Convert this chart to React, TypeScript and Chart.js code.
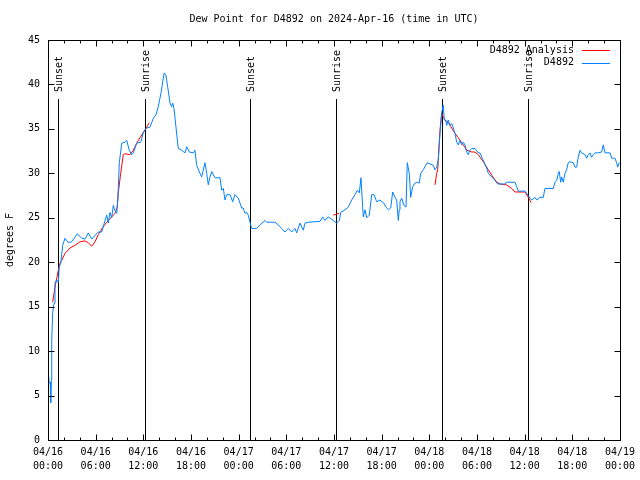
import React, { useEffect, useRef } from "react";
import { Chart, registerables } from "chart.js";

Chart.register(...registerables);

const TITLE = "Dew Point for D4892 on 2024-Apr-16 (time in UTC)";
const Y_AXIS_LABEL = "degrees F";

// x axis: hours since 04/16 00:00 UTC
const X_MIN = 0;
const X_MAX = 72;
const X_TICK_HOURS = [0, 6, 12, 18, 24, 30, 36, 42, 48, 54, 60, 66, 72];
const X_TICK_DATES = ["04/16", "04/16", "04/16", "04/16", "04/17", "04/17", "04/17", "04/17", "04/18", "04/18", "04/18", "04/18", "04/19"];
const X_TICK_TIMES = ["00:00", "06:00", "12:00", "18:00", "00:00", "06:00", "12:00", "18:00", "00:00", "06:00", "12:00", "18:00", "00:00"];
const X_MINOR_STEP = 2;

const Y_MIN = 0;
const Y_MAX = 45;
const Y_TICKS = [0, 5, 10, 15, 20, 25, 30, 35, 40, 45];

const SUN_EVENT_HOURS = [1.3, 12.25, 25.43, 36.29, 49.6, 60.46];
const SUN_EVENT_LABELS = ["Sunset", "Sunrise", "Sunset", "Sunrise", "Sunset", "Sunrise"];

const ANALYSIS_LABEL = "D4892 Analysis";
const OBS_LABEL = "D4892";

// observed dew point (blue)
const OBS_HOURS = [
  0.04, 0.16, 0.28, 0.34, 0.42, 0.47, 0.59, 0.76, 0.88, 1.1, 1.3, 1.42, 1.6, 1.85, 2.14, 2.56, 2.98,
  3.69, 4.24, 4.66, 5.07, 5.5, 6.33, 6.76, 7.18, 7.39, 7.59, 7.8, 8.02, 8.22, 8.43, 8.65, 8.8, 8.98,
  9.28, 9.69, 9.91, 10.23, 10.54, 10.74, 11.17, 11.67, 12.0, 12.42, 12.84, 13.26, 13.6, 13.88, 14.22,
  14.44, 14.64, 14.85, 15.07, 15.36, 15.57, 15.7, 15.86, 16.11, 16.4, 16.83, 17.25, 17.46, 17.79,
  18.29, 18.5, 18.72, 19.13, 19.35, 19.76, 19.98, 20.18, 20.39, 20.61, 21.02, 21.65, 21.87, 22.07,
  22.28, 22.5, 22.91, 23.25, 23.54, 23.96, 24.38, 24.58, 24.8, 25.01, 25.21, 25.43, 25.64, 25.84,
  26.27, 26.69, 27.32, 27.53, 28.57, 28.99, 29.42, 29.83, 30.25, 30.68, 31.09, 31.31, 31.72, 32.14,
  32.35, 32.77, 34.24, 34.58, 34.87, 35.28, 35.91, 36.34, 36.67, 36.85, 37.39, 37.8, 38.23, 38.65,
  38.94, 39.19, 39.4, 39.61, 39.69, 39.9, 40.12, 40.45, 40.75, 41.04, 41.38, 41.79, 42.21, 42.55,
  42.84, 43.14, 43.39, 43.68, 43.89, 44.1, 44.22, 44.31, 44.52, 44.81, 45.07, 45.23, 45.48, 45.66,
  45.91, 46.2, 46.49, 46.74, 46.92, 47.24, 47.75, 48.5, 48.72, 48.93, 49.13, 49.35, 49.56, 49.76,
  49.89, 50.06, 50.19, 50.39, 50.6, 50.82, 51.02, 51.23, 51.45, 51.65, 51.86, 52.08, 52.28, 52.49,
  52.71, 52.91, 53.12, 53.34, 53.75, 54.17, 54.38, 54.67, 54.92, 55.22, 55.43, 55.85, 56.27, 56.61,
  57.53, 57.74, 58.79, 59.0, 59.2, 60.05, 60.46, 60.67, 60.89, 61.3, 61.52, 61.93, 62.35, 62.56,
  63.61, 63.82, 64.04, 64.24, 64.36, 64.54, 64.66, 64.87, 65.08, 65.29, 65.49, 65.71, 66.12, 66.34,
  66.55, 66.75, 66.97, 67.18, 67.6, 67.81, 68.01, 68.23, 68.44, 68.64, 68.86, 69.27, 69.7, 69.9,
  70.12, 70.75, 70.96, 71.37, 71.58, 71.71, 71.92,
];
const OBS_VALUES = [
  7.5, 6.4, 6.5, 4.2, 6.7, 11.2, 14.3, 15.4, 17.7, 18.0, 17.7, 19.5, 19.9, 21.9, 22.7, 22.2, 22.3,
  23.2, 22.7, 22.6, 23.3, 22.6, 23.4, 23.4, 24.7, 25.3, 24.4, 25.6, 25.0, 26.4, 25.8, 25.5, 27.3, 31.2,
  33.4, 33.5, 33.7, 32.6, 32.1, 32.3, 33.4, 33.5, 34.6, 35.1, 35.2, 36.2, 36.6, 37.5, 39.0,
  40.3, 41.3, 41.0, 39.7, 37.9, 37.5, 37.9, 37.3, 35.2, 32.8, 32.6, 32.3, 33.0, 32.4,
  32.3, 32.6, 30.9, 30.0, 29.6, 31.2, 30.0, 28.7, 29.6, 30.2, 29.5, 29.5, 28.1, 28.3,
  27.0, 27.6, 27.6, 26.8, 27.6, 27.2, 26.1, 26.1, 25.5, 25.6, 25.3, 24.5, 23.8, 23.8,
  23.8, 24.2, 24.7, 24.5, 24.5, 24.2, 23.8, 23.4, 23.8, 23.4, 23.8, 23.3, 24.4, 23.6,
  24.4, 24.5, 24.6, 25.1, 24.7, 25.1, 24.7, 24.4, 24.7, 25.6, 25.9, 26.2, 27.0, 27.6,
  28.1, 27.8, 29.5, 26.2, 25.1, 25.9, 25.0, 25.3, 27.6, 27.6, 26.8, 27.0, 26.7, 26.2,
  25.9, 26.1, 27.9, 27.3, 27.0, 24.7, 25.9, 26.8, 27.2, 26.4, 26.2, 31.2, 30.0, 27.3,
  28.5, 28.9, 29.0, 28.9, 30.0, 30.4, 31.2, 30.9, 30.4, 30.7, 31.5, 34.5, 36.8, 37.7,
  36.0, 36.0, 35.4, 36.0, 35.4, 35.6, 35.1, 34.5, 33.5, 33.2, 33.7, 33.2, 33.5, 33.2,
  32.4, 32.1, 32.6, 32.8, 32.8, 32.3, 32.3, 31.7, 31.2, 30.6, 30.0, 29.6, 29.2, 28.8,
  28.8, 29.0, 29.0, 28.5, 28.0, 28.0, 27.5, 27.2, 27.0, 27.3, 27.0, 27.3, 27.3, 28.3,
  28.3, 29.0, 29.2, 30.0, 30.2, 29.0, 29.6, 29.0, 30.0, 30.4, 31.2, 31.3, 31.2, 30.7,
  30.7, 31.8, 32.6, 32.3, 32.1, 31.7, 32.1, 32.3, 31.8, 32.1, 32.3, 32.3, 32.4, 33.2,
  32.3, 32.3, 31.7, 31.7, 31.2, 30.7, 31.2,
];

// analysis (red); null breaks the line into segments
const ANALYSIS_HOURS = [
  0.59, 0.88, 1.3, 1.51, 1.72, 2.14, 2.77, 3.4, 4.03, 4.66, 5.07, 5.5, 5.92, 6.33, 6.96, 7.39, 8.02,
  8.43, 8.72, 8.85, 9.15, 9.48, 9.69, 10.32, 10.74, 11.17, 11.58, 12.0, 12.42, 12.75,
  24.0,
  35.91, 36.67,
  42.0,
  48.72, 48.93, 49.06, 49.22, 49.35, 49.56, 49.76, 49.97, 50.39, 50.82, 51.23, 51.65, 52.28, 52.71,
  53.34, 53.75, 54.17, 54.8, 55.43, 55.85, 56.48, 56.9, 57.74, 58.37, 58.79, 60.05, 60.46, 60.81,
];
const ANALYSIS_VALUES = [
  15.5, 17.2, 19.1, 19.9, 20.2, 21.0, 21.6, 21.9, 22.3, 22.4, 22.2, 21.8, 22.3, 23.1, 24.0, 24.5, 25.1,
  25.5, 26.2, 27.8, 30.0, 32.1, 32.2, 32.1, 32.6, 33.4, 34.0, 34.6, 35.2, 35.7,
  null,
  25.3, 25.5,
  null,
  28.7, 30.0, 30.4, 33.0, 34.9, 36.8, 36.3, 36.0, 35.7, 35.1, 34.5, 34.0, 33.2, 32.6,
  32.4, 32.4, 32.1, 31.3, 30.4, 29.8, 29.0, 28.8, 28.7, 28.3, 27.9, 27.9, 27.3, 26.7,
];

const FONT = '10px "DejaVu Sans Mono", "Liberation Mono", monospace';
const RED = "#ff0000";
const BLUE = "#0080ff";

const overlayPlugin = {
  id: "gnuplotOverlay",
  beforeDatasetsDraw(chart: any) {
    const { ctx, chartArea } = chart;
    const xs = chart.scales.x;
    ctx.save();
    ctx.strokeStyle = "#000";
    ctx.lineWidth = 1;
    SUN_EVENT_HOURS.forEach((h) => {
      const px = Math.round(xs.getPixelForValue(h)) + 0.5;
      ctx.beginPath();
      ctx.moveTo(px, chartArea.top + 59);
      ctx.lineTo(px, chartArea.bottom);
      ctx.stroke();
    });
    ctx.restore();
  },
  afterDraw(chart: any) {
    const { ctx, chartArea } = chart;
    const xs = chart.scales.x;
    const ys = chart.scales.y;
    const L = Math.round(chartArea.left) + 0.5;
    const R = Math.round(chartArea.right) + 0.5;
    const T = Math.round(chartArea.top) + 0.5;
    const B = Math.round(chartArea.bottom) + 0.5;
    ctx.save();
    ctx.strokeStyle = "#000";
    ctx.lineWidth = 1;
    ctx.strokeRect(L, T, R - L, B - T);
    // x ticks (major every 6h, minor every 2h), mirrored on top
    ctx.beginPath();
    for (let h = X_MIN; h <= X_MAX; h += X_MINOR_STEP) {
      const len = X_TICK_HOURS.includes(h) ? 6 : 3;
      const px = Math.round(xs.getPixelForValue(h)) + 0.5;
      ctx.moveTo(px, B);
      ctx.lineTo(px, B - len);
      ctx.moveTo(px, T);
      ctx.lineTo(px, T + len);
    }
    Y_TICKS.forEach((v) => {
      const py = Math.round(ys.getPixelForValue(v)) + 0.5;
      ctx.moveTo(L, py);
      ctx.lineTo(L + 6, py);
      ctx.moveTo(R, py);
      ctx.lineTo(R - 6, py);
    });
    ctx.stroke();

    ctx.fillStyle = "#000";
    ctx.font = FONT;
    // sun event labels
    SUN_EVENT_HOURS.forEach((h, i) => {
      const px = xs.getPixelForValue(h);
      ctx.save();
      ctx.translate(px + 1, chartArea.top + 52);
      ctx.rotate(-Math.PI / 2);
      ctx.textAlign = "left";
      ctx.textBaseline = "middle";
      ctx.fillText(SUN_EVENT_LABELS[i], 0, 0);
      ctx.restore();
    });

    // legend
    const ds = chart.data.datasets;
    ds.forEach((d: any, i: number) => {
      const rowY = chartArea.top + 10 + i * 12.5;
      ctx.textAlign = "right";
      ctx.textBaseline = "middle";
      ctx.fillStyle = "#000";
      ctx.fillText(d.label, chartArea.right - 46, rowY);
      ctx.strokeStyle = d.borderColor;
      ctx.beginPath();
      ctx.moveTo(chartArea.right - 38, Math.round(rowY) + 0.5);
      ctx.lineTo(chartArea.right - 10, Math.round(rowY) + 0.5);
      ctx.stroke();
    });

    // title
    ctx.fillStyle = "#000";
    ctx.textAlign = "center";
    ctx.textBaseline = "middle";
    ctx.fillText(TITLE, (chartArea.left + chartArea.right) / 2, 19);

    // y axis label
    ctx.save();
    ctx.translate(10, (chartArea.top + chartArea.bottom) / 2);
    ctx.rotate(-Math.PI / 2);
    ctx.textAlign = "center";
    ctx.textBaseline = "middle";
    ctx.fillText(Y_AXIS_LABEL, 0, 0);
    ctx.restore();

    ctx.restore();
  },
};

function App() {
  const ref = useRef<HTMLCanvasElement | null>(null);
  useEffect(() => {
    document.body.style.margin = "0";
    if (!ref.current) return;
    const fontSpec = { family: '"DejaVu Sans Mono", "Liberation Mono", monospace', size: 10, lineHeight: 1.4 };
    const chart = new Chart(ref.current, {
      type: "line",
      data: {
        datasets: [
          {
            label: ANALYSIS_LABEL,
            data: ANALYSIS_HOURS.map((h, i) => ({ x: h, y: ANALYSIS_VALUES[i] })),
            borderColor: RED,
            backgroundColor: RED,
            borderWidth: 1,
            pointRadius: 0,
            spanGaps: false,
            tension: 0,
            order: 2,
          } as any,
          {
            label: OBS_LABEL,
            data: OBS_HOURS.map((h, i) => ({ x: h, y: OBS_VALUES[i] })),
            borderColor: BLUE,
            backgroundColor: BLUE,
            borderWidth: 1,
            pointRadius: 0,
            tension: 0,
            order: 1,
          } as any,
        ],
      },
      options: {
        animation: false,
        responsive: false,
        devicePixelRatio: 1,
        layout: { padding: { top: 40, right: 20, bottom: 0, left: 0 } },
        plugins: {
          legend: { display: false },
          title: { display: false },
          tooltip: { enabled: false },
        },
        scales: {
          x: {
            type: "linear",
            min: X_MIN,
            max: X_MAX,
            afterFit: (s: any) => {
              s.height = 40;
            },
            afterBuildTicks: (s: any) => {
              s.ticks = X_TICK_HOURS.map((v) => ({ value: v }));
            },
            ticks: {
              autoSkip: false,
              maxRotation: 0,
              minRotation: 0,
              padding: 5,
              color: "#000",
              font: fontSpec,
              callback: (v: any) => {
                const i = X_TICK_HOURS.indexOf(Number(v));
                return i >= 0 ? [X_TICK_DATES[i], X_TICK_TIMES[i]] : "";
              },
            },
            grid: { display: false, drawTicks: false },
            border: { display: false },
          },
          y: {
            type: "linear",
            min: Y_MIN,
            max: Y_MAX,
            afterFit: (s: any) => {
              s.width = 48;
            },
            afterBuildTicks: (s: any) => {
              s.ticks = Y_TICKS.map((v) => ({ value: v }));
            },
            ticks: {
              padding: 8,
              color: "#000",
              font: { family: fontSpec.family, size: 10 },
              callback: (v: any) => String(v),
            },
            grid: { display: false, drawTicks: false },
            border: { display: false },
          },
        },
      } as any,
      plugins: [overlayPlugin],
    });
    return () => chart.destroy();
  }, []);
  return (
    <div style={{ position: "fixed", left: 0, top: 0, width: 640, height: 480, background: "#fff" }}>
      <canvas ref={ref} width={640} height={480} style={{ width: 640, height: 480, display: "block" }} />
    </div>
  );
}

export default App;
